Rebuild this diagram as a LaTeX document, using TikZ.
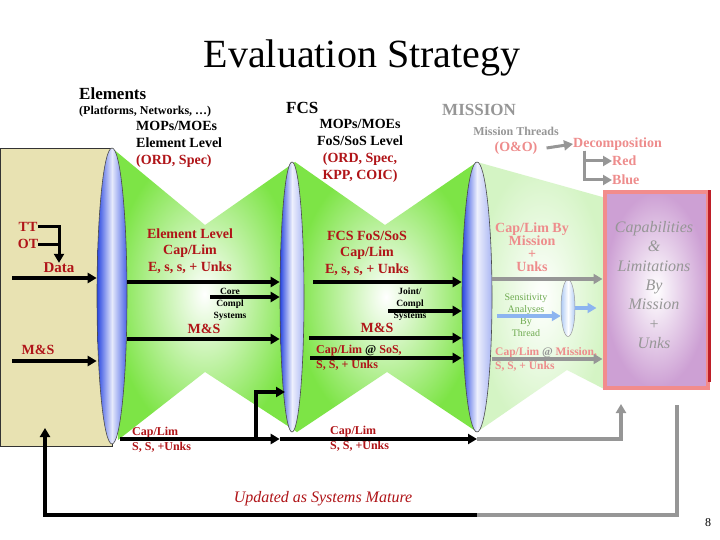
\documentclass[tikz,border=0pt]{standalone}
\usepackage{fontspec}
\setmainfont{Liberation Serif}
\usepackage{tikz}
\usetikzlibrary{arrows.meta,shapes.geometric}

\definecolor{capred}{RGB}{176,20,24}
\definecolor{fadepink}{RGB}{238,140,140}
\definecolor{fadegrey}{RGB}{150,150,150}
\definecolor{lensblue}{RGB}{40,70,225}
\definecolor{fcsgreen}{RGB}{125,228,70}
\definecolor{palegreen}{RGB}{212,244,196}
\definecolor{beige}{RGB}{232,226,178}
\definecolor{lilac}{RGB}{205,160,212}
\definecolor{salmon}{RGB}{242,140,140}
\definecolor{boxred}{RGB}{190,30,40}
\definecolor{sensgreen}{RGB}{110,170,80}
\definecolor{sensblue}{RGB}{140,180,240}

\begin{document}
\begin{tikzpicture}[x=1pt,y=-1pt,
		lens/.style={ellipse, draw=black!70, line width=0.6pt, inner sep=0pt, left color=lensblue, right color=lensblue!40, middle color=lensblue!8!white},
		arr/.style={line width=3.5pt, -{Triangle[length=9pt,width=10pt]}},
		greyarr/.style={arr, draw=fadegrey},
		bluearr/.style={arr, draw=sensblue},
		txt/.style={inner sep=0pt, font=\bfseries\fontsize{14}{17}\selectfont},
		redtxt/.style={txt, text=capred, align=center},
		pinktxt/.style={txt, text=fadepink, align=center},
		headtxt/.style={inner sep=0pt, anchor=west, font=\bfseries\fontsize{17}{20}\selectfont},
		tinytxt/.style={inner sep=0pt, align=center, font=\bfseries\fontsize{9.5}{12}\selectfont}
	]
		\useasboundingbox (0,0) rectangle (720,540);
		\fill[white] (0,0) rectangle (720,540);
		
		%Shape: Rectangle [input box]
		\node[draw=black!80, line width=0.6pt, fill=beige, minimum width=112pt, minimum height=298pt, inner sep=0pt] (inputBox) at (56,297) {};
		
		%Shape: Polygon [element to FCS]
		\shade[inner color=white, outer color=fcsgreen] (112,148) -- (205,225) -- (295,162) -- (297,432) -- (205,372) -- (118,440) -- cycle;
		%Shape: Polygon [FCS to mission]
		\shade[inner color=white, outer color=fcsgreen] (295,162) -- (385,225) -- (477,162) -- (477,432) -- (387,372) -- (297,432) -- cycle;
		%Shape: Polygon [mission to box]
		\shade[inner color=white, outer color=palegreen] (477,162) -- (606,198) -- (606,390) -- (567,370) -- (477,432) -- cycle;
		
		%Shape: Rectangle [capabilities box]
		\node[draw=salmon, line width=4pt, inner color=white, outer color=lilac, minimum width=103pt, minimum height=195pt, inner sep=0pt] (capBox) at (656,290) {};
		\draw[boxred, line width=2.5pt] (capBox.north east) -- ([yshift=8pt]capBox.south east);
		
		%Shape: Ellipse [lenses]
		\node[lens, right color=lensblue!85, middle color=lensblue!12!white, minimum width=30pt, minimum height=296pt] (lensA) at (112,296) {};
		\node[lens, minimum width=24pt, minimum height=270pt] (lensB) at (292,297) {};
		\node[lens, minimum width=30pt, minimum height=270pt] (lensC) at (477,297) {};
		\node[ellipse, draw=black!40, line width=0.5pt, inner sep=0pt, left color=sensblue!70, right color=sensblue!70, middle color=white, minimum width=14pt, minimum height=57pt] (lensD) at (568,308) {};
		
		% Text Node
		\node[font=\fontsize{40}{48}\selectfont, inner sep=0pt] (title) at (362,58) {Evaluation Strategy};
		% Text Node
		\node[headtxt] (elemHead) at (79,94) {Elements};
		\node[inner sep=0pt, anchor=west, font=\bfseries\fontsize{12}{14}\selectfont] (elemSub) at (79,112) {(Platforms, Networks, …)};
		\node[txt, anchor=west, align=left] (mopA) at (136,144) {MOPs/MOEs\\Element Level\\\textcolor{capred}{(ORD, Spec)}};
		% Text Node
		\node[headtxt] (fcsHead) at (286,108) {FCS};
		\node[txt, align=center] (mopB) at (360,151) {MOPs/MOEs\\FoS/SoS Level\\\textcolor{capred}{(ORD, Spec,}\\\textcolor{capred}{KPP, COIC)}};
		% Text Node
		\node[headtxt, text=fadegrey] (misHead) at (442,110) {MISSION};
		\node[inner sep=0pt, text=fadegrey, font=\bfseries\fontsize{12}{14}\selectfont] (threads) at (516,131) {Mission Threads};
		\node[pinktxt] (oo) at (516,148) {(O\&O)};
		\node[pinktxt, anchor=west] (decomp) at (573,144) {Decomposition};
		\node[pinktxt, anchor=west] (red) at (612,161) {Red};
		\node[pinktxt, anchor=west] (blue) at (612,180) {Blue};
		
		% Text Node
		\node[redtxt] (tt) at (28,227) {TT};
		\node[redtxt] (ot) at (28,244) {OT};
		\node[redtxt, font=\bfseries\fontsize{15}{17}\selectfont] (data) at (59,268) {Data};
		\node[redtxt] (msLeft) at (38,350) {M\&S};
		
		% Text Node
		\node[redtxt, font=\bfseries\fontsize{14}{16.5}\selectfont] (capA) at (190,251) {Element Level\\Cap/Lim\\E, s, s, + Unks};
		\node[tinytxt] (coreTxt) at (230,304) {Core\\Compl\\Systems};
		\node[redtxt] (msA) at (204,329) {M\&S};
		\node[redtxt, anchor=west, align=left, font=\bfseries\fontsize{12}{15}\selectfont] (botA) at (132,439.5) {Cap/Lim\\S, S, +Unks};
		
		% Text Node
		\node[redtxt, font=\bfseries\fontsize{14}{16.5}\selectfont] (capB) at (367,253) {FCS FoS/SoS\\Cap/Lim\\E, s, s, + Unks};
		\node[tinytxt] (jointTxt) at (410,304) {Joint/\\Compl\\Systems};
		\node[redtxt] (msB) at (377,328) {M\&S};
		\node[redtxt, anchor=west, align=left, font=\bfseries\fontsize{12}{15}\selectfont] (atSoS) at (316,357.5) {Cap/Lim \textcolor{black}{@} SoS,\\S, S, + Unks};
		\node[redtxt, anchor=west, align=left, font=\bfseries\fontsize{12}{15}\selectfont] (botB) at (330,439) {Cap/Lim\\S, S, +Unks};
		
		% Text Node
		\node[pinktxt, font=\bfseries\fontsize{14}{13}\selectfont] (misCap) at (532,247) {Cap/Lim By\\Mission\\+\\Unks};
		\node[inner sep=0pt, align=center, text=sensgreen, font=\fontsize{10}{12}\selectfont] (sensTxt) at (526,315) {Sensitivity\\Analyses\\By\\Thread};
		\node[pinktxt, anchor=west, align=left, font=\bfseries\fontsize{11.5}{14}\selectfont] (misAt) at (495,359) {Cap/Lim \textcolor{fadegrey}{@} Mission,\\S, S, + Unks};
		\node[inner sep=0pt, align=center, text=fadegrey, font=\itshape\fontsize{16}{19.3}\selectfont] (capTxt) at (654,285) {Capabilities\\\&\\Limitations\\By\\Mission\\+\\Unks};
		
		% Text Node
		\node[inner sep=0pt, text=capred, font=\itshape\fontsize{16}{19}\selectfont] (updated) at (323,499) {Updated as Systems Mature};
		\node[inner sep=0pt, font=\fontsize{12}{14}\selectfont] (page) at (708,523) {8};
		
		%Coordinates [free arrow ends]
		\coordinate (dataIn) at (12,278);
		\coordinate (msIn) at (12,361);
		\coordinate (capAIn) at (127,282);
		\coordinate (coreIn) at (210,297);
		\coordinate (msAIn) at (127,339);
		\coordinate (botIn) at (120,439);
		\coordinate (branchFoot) at (256,439);
		\coordinate (branchTip) at (285,392);
		\coordinate (capBIn) at (313,282);
		\coordinate (jointIn) at (388,311);
		\coordinate (msBIn) at (309,338);
		\coordinate (atSoSIn) at (310,358);
		\coordinate (misCapIn) at (492,279);
		\coordinate (misAtIn) at (492,359);
		\coordinate (sensIn) at (497,316);
		\coordinate (upTip) at (621,404);
		\coordinate (fbTop) at (677,405);
		\coordinate (fbTurn) at (477,515);
		\coordinate (fbTip) at (45,428);
		
		%Arrows [decomposition]
		\draw[greyarr, line width=3pt] ([xshift=9pt]oo.east) -- (decomp.west);
		\draw[greyarr, line width=3pt] ([xshift=11pt]decomp.south west) |- (red.west);
		\draw[greyarr, line width=3pt] ([xshift=11pt]decomp.south west) |- (blue.west);
		
		%Arrows [input box]
		\draw[arr, line width=3pt] (tt.east) -| (data.north);
		\draw[line width=3pt] (ot.east) -- (ot.east -| data.north);
		\draw[arr] (dataIn) -- (dataIn -| lensA.west);
		\draw[arr] (msIn) -- (msIn -| lensA.west);
		
		%Arrows [element to FCS]
		\draw[arr] (capAIn) -- (capAIn -| lensB.west);
		\draw[arr] (coreIn) -- (coreIn -| lensB.west);
		\draw[arr] (msAIn) -- (msAIn -| lensB.west);
		\draw[arr] (botIn) -- (botIn -| lensB.west);
		\draw[arr] (branchFoot) |- (branchTip);
		
		%Arrows [FCS to mission]
		\draw[arr] (capBIn) -- (capBIn -| lensC.west);
		\draw[arr] (jointIn) -- (jointIn -| lensC.west);
		\draw[arr] (msBIn) -- (msBIn -| lensC.west);
		\draw[arr] (atSoSIn) -- (atSoSIn -| lensC.west);
		\draw[arr] (botIn -| lensB.west) -- (botIn -| lensC);
		
		%Arrows [mission to box]
		\draw[greyarr] (misCapIn) -- (misCapIn -| capBox.west);
		\draw[greyarr] (misAtIn) -- (misAtIn -| capBox.west);
		\draw[bluearr] (sensIn) -- (sensIn -| lensD.west);
		\draw[bluearr, shorten >=6pt] (lensD.east) -- (lensD.east -| capBox.west);
		\draw[greyarr] (botIn -| lensC) -| (upTip);
		
		%Arrows [feedback]
		\draw[fadegrey, line width=3.5pt] (fbTop) |- (fbTurn);
		\draw[arr] (fbTurn) -| (fbTip);
	\end{tikzpicture}
\end{document}
